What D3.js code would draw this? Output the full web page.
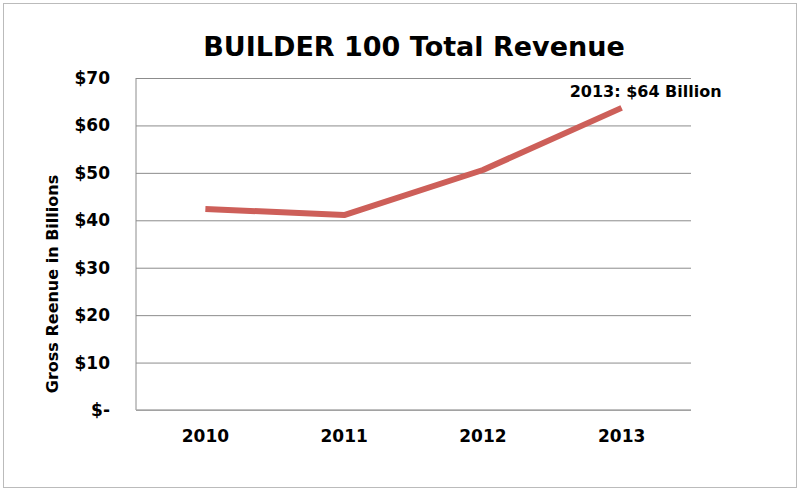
<!DOCTYPE html>
<html>
<head>
<meta charset="utf-8">
<script src="https://cdn.jsdelivr.net/npm/d3@7"></script>
<style>
  body { margin: 0; background: #fff; }
  text { font-family: "DejaVu Sans", sans-serif; font-weight: bold; fill: #000; }
</style>
</head>
<body>
<div id="canvas"></div>
<script>
const years = ["2010", "2011", "2012", "2013"];
const revenue = [42.4, 41.1, 50.6, 63.7];
const yTicks = [0, 10, 20, 30, 40, 50, 60, 70];

const width = 800;
const height = 491;
const margin = {top: 78, left: 136, bottom: 81, right: 109};
const iwidth = width - margin.left - margin.right;
const iheight = height - margin.top - margin.bottom;

const svg = d3.select("#canvas").append("svg")
    .attr("width", width)
    .attr("height", height);

svg.append("rect")
    .attr("x", 3.5).attr("y", 3.5)
    .attr("width", width - 7).attr("height", height - 7)
    .attr("fill", "none").attr("stroke", "#bbb");

const g = svg.append("g").attr("transform", `translate(${margin.left}, ${margin.top})`);

const x = d3.scaleBand().domain(years).range([0, iwidth]);
const y = d3.scaleLinear().domain([0, 70]).range([iheight, 0]);

// gridlines
g.append("g")
    .call(d3.axisLeft(y).tickValues(yTicks).tickSize(-iwidth).tickFormat(""))
    .call(s => s.select(".domain").remove())
    .call(s => s.selectAll("line").attr("stroke", "#8c8c8c"));

g.append("line")
    .attr("x1", 0).attr("x2", 0).attr("y1", 0).attr("y2", iheight)
    .attr("stroke", "#8c8c8c");
g.append("line")
    .attr("x1", 0).attr("x2", iwidth).attr("y1", iheight).attr("y2", iheight)
    .attr("stroke", "#aaa").attr("stroke-width", 1.5);

// y labels
g.append("g")
    .call(d3.axisLeft(y).tickValues(yTicks).tickSize(0).tickPadding(26)
        .tickFormat(d => d === 0 ? "$-" : "$" + d))
    .call(s => s.select(".domain").remove())
    .call(s => s.selectAll("text").style("font-size", "17px").style("font-family", "DejaVu Sans").style("font-weight", "bold"));

// x labels
g.append("g")
    .attr("transform", `translate(0, ${iheight})`)
    .call(d3.axisBottom(x).tickSize(0).tickPadding(20))
    .call(s => s.select(".domain").remove())
    .call(s => s.selectAll("text").style("font-size", "17px").style("font-family", "DejaVu Sans").style("font-weight", "bold"));

const line = d3.line()
    .x((d, i) => x(years[i]) + x.bandwidth() / 2)
    .y(d => y(d));

g.append("path")
    .datum(revenue)
    .attr("fill", "none")
    .attr("stroke", "#cd5f59")
    .attr("stroke-width", 6)
    .attr("stroke-linejoin", "round")
    .attr("d", line);

g.append("text")
    .attr("x", x("2013") + x.bandwidth() / 2 + 24)
    .attr("y", y(revenue[3]) - 11)
    .attr("text-anchor", "middle")
    .style("font-size", "16px")
    .text("2013: $64 Billion");

svg.append("text")
    .attr("x", 414).attr("y", 56)
    .attr("text-anchor", "middle")
    .style("font-size", "27px")
    .text("BUILDER 100 Total Revenue");

svg.append("text")
    .attr("transform", `translate(58, ${margin.top + iheight / 2 + 40}) rotate(-90)`)
    .attr("text-anchor", "middle")
    .style("font-size", "16px")
    .text("Gross Reenue in Billions");
</script>
</body>
</html>
